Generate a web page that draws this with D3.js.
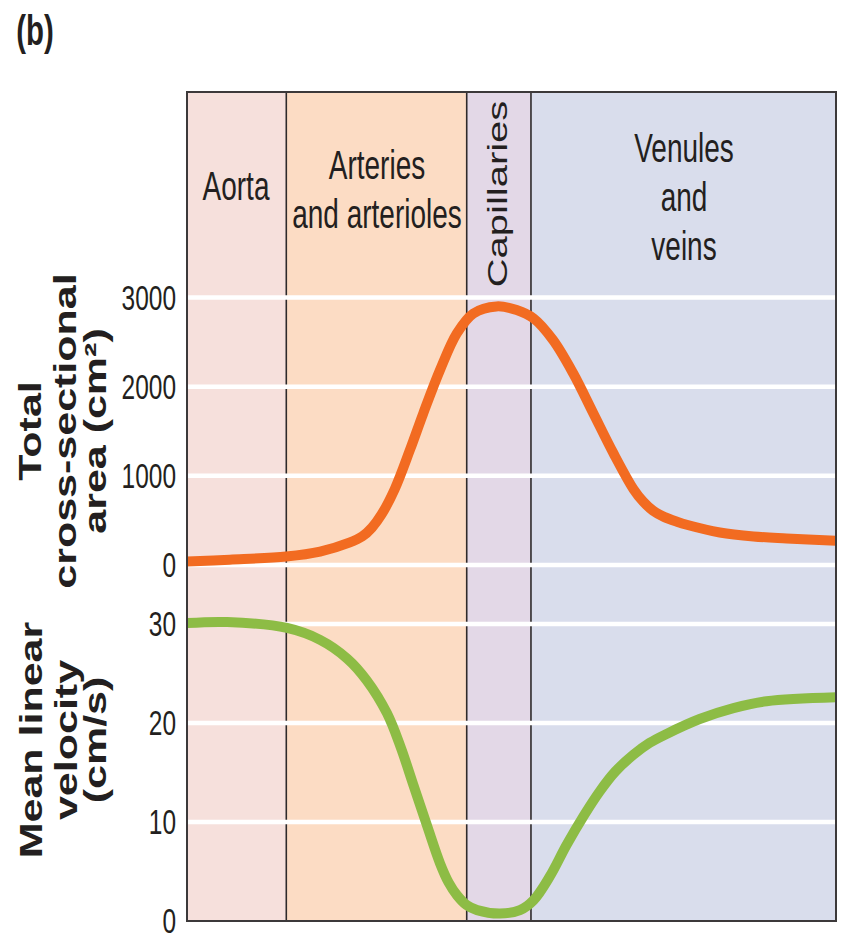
<!DOCTYPE html>
<html>
<head>
<meta charset="utf-8">
<script src="https://cdn.jsdelivr.net/npm/d3@7"></script>
<style>
  html, body { margin: 0; padding: 0; background: #ffffff; }
  svg { display: block; }
  text { font-family: "Liberation Sans", Arial, Helvetica, sans-serif; fill: #231f20; }
</style>
</head>
<body>
<svg id="chart" width="842" height="936"></svg>
<script>
// Vessel segments along the circulation (position 0–100)
const regionNames  = ["Aorta", "Arteries and arterioles", "Capillaries", "Venules and veins"];
const regionStarts = [0, 15.3, 43.1, 53.0];
const regionEnds   = [15.3, 43.1, 53.0, 100];
const regionColors = ["#f6e0dc", "#fcdcc4", "#e3d8e7", "#d9ddec"];

// Total cross-sectional area (cm²) along the path
const areaPos = [0, 6.6, 15.3, 20.5, 25.0, 27.0, 28.5, 30.0, 32.0, 34.4, 36.4, 39.0, 41.6, 44.1, 47.7,
                 50.8, 53.4, 56.4, 59.5, 62.6, 65.7, 68.8, 70.3, 71.8, 73.5, 75.5, 77.0, 82.1, 87.3, 92.4, 100];
const areaVal = [40, 60, 95, 150, 250, 320, 420, 570, 850, 1300, 1700, 2190, 2600, 2820, 2900,
                 2860, 2766, 2523, 2150, 1702, 1254, 850, 710, 610, 540, 485, 451, 365, 320, 298, 272];

// Mean linear velocity (cm/s) along the path
const velPos = [0, 6.2, 15.4, 20.5, 24.7, 27.7, 30.8, 32.9, 34.9, 37.0, 39.0, 40.3, 41.6, 43.1, 44.7, 48.2,
                51.3, 53.4, 55.9, 58.5, 61.1, 63.6, 66.0, 68.8, 71.3, 73.9, 79.0, 84.2, 89.3, 100];
const velVal = [30.1, 30.2, 29.6, 28.4, 26.5, 24.3, 21.0, 17.6, 13.7, 9.6, 5.8, 3.9, 2.6, 1.6, 1.1, 0.75,
                1.1, 2.1, 4.5, 7.7, 10.6, 13.1, 15.1, 16.8, 18.0, 18.9, 20.4, 21.5, 22.2, 22.6];

const areaTicks = [0, 1000, 2000, 3000];
const velTicks  = [0, 10, 20, 30];

const svg = d3.select("#chart");
const plotLeft = 187, plotRight = 836, plotTop = 92, plotBottom = 921;

const x = d3.scaleLinear().domain([0, 100]).range([plotLeft, plotRight]);
const yArea = d3.scaleLinear().domain([0, 3000]).range([565, 297.5]);
const yVel  = d3.scaleLinear().domain([0, 30]).range([plotBottom, 624]);

// Glyphs are drawn condensed, as in the original artwork
const SX = 0.7;

// Background bands
svg.append("g").selectAll("rect")
  .data(regionNames)
  .join("rect")
  .attr("x", (d, i) => x(regionStarts[i]))
  .attr("y", plotTop)
  .attr("width", (d, i) => x(regionEnds[i]) - x(regionStarts[i]))
  .attr("height", plotBottom - plotTop)
  .attr("fill", (d, i) => regionColors[i]);

// Separators between segments
svg.append("g").selectAll("line")
  .data(regionStarts.slice(1))
  .join("line")
  .attr("x1", d => x(d)).attr("x2", d => x(d))
  .attr("y1", plotTop).attr("y2", plotBottom)
  .attr("stroke", "#2e2a2b").attr("stroke-width", 1.6);

// White grid lines
const grid = svg.append("g").attr("stroke", "#ffffff").attr("stroke-width", 4.5);
grid.selectAll("line.a").data(areaTicks).join("line").attr("class", "a")
  .attr("x1", plotLeft).attr("x2", plotRight)
  .attr("y1", d => yArea(d)).attr("y2", d => yArea(d));
grid.selectAll("line.v").data(velTicks.filter(d => d > 0)).join("line").attr("class", "v")
  .attr("x1", plotLeft).attr("x2", plotRight)
  .attr("y1", d => yVel(d)).attr("y2", d => yVel(d));

// Curves, clipped to the plot frame
svg.append("clipPath").attr("id", "plotClip")
  .append("rect").attr("x", plotLeft).attr("y", plotTop)
  .attr("width", plotRight - plotLeft).attr("height", plotBottom - plotTop);

const curves = svg.append("g").attr("clip-path", "url(#plotClip)");

const areaLine = d3.line()
  .x((d, i) => x(areaPos[i]))
  .y(d => yArea(d))
  .curve(d3.curveCatmullRom.alpha(0.5));
const velLine = d3.line()
  .x((d, i) => x(velPos[i]))
  .y(d => yVel(d))
  .curve(d3.curveCatmullRom.alpha(0.5));

curves.append("path")
  .attr("d", areaLine(areaVal))
  .attr("fill", "none").attr("stroke", "#f26b21").attr("stroke-width", 10)
  .attr("stroke-linejoin", "round");
curves.append("path")
  .attr("d", velLine(velVal))
  .attr("fill", "none").attr("stroke", "#8dbc45").attr("stroke-width", 10)
  .attr("stroke-linejoin", "round");

// Frame
svg.append("rect")
  .attr("x", plotLeft).attr("y", plotTop)
  .attr("width", plotRight - plotLeft).attr("height", plotBottom - plotTop)
  .attr("fill", "none").attr("stroke", "#3c393a").attr("stroke-width", 2);

// Axes (labels only)
function styleAxis(g) {
  g.select(".domain").remove();
  g.selectAll(".tick line").remove();
  g.selectAll(".tick text")
    .attr("x", 0).attr("dy", "0.34em")
    .attr("transform", `scale(${SX},1)`)
    .attr("font-family", "Liberation Sans, Arial, sans-serif")
    .attr("font-size", 35)
    .attr("fill", "#231f20");
}
svg.append("g").attr("transform", "translate(176,0)")
  .call(d3.axisLeft(yArea).tickValues(areaTicks).tickSize(0).tickPadding(0).tickFormat(d3.format("d")))
  .call(styleAxis);
svg.append("g").attr("transform", "translate(176,0)")
  .call(d3.axisLeft(yVel).tickValues(velTicks).tickSize(0).tickPadding(0).tickFormat(d3.format("d")))
  .call(styleAxis);

// Horizontal text helper (condensed)
function hText(str, cx, baseline, size, weight) {
  svg.append("text")
    .attr("transform", `translate(${cx},${baseline}) scale(${SX},1)`)
    .attr("text-anchor", "middle")
    .attr("font-size", size)
    .attr("font-weight", weight || "normal")
    .text(str);
}
// Vertical text helper (reads bottom to top, condensed across the glyph height)
function vText(str, bx, cy, size, weight, sy) {
  svg.append("text")
    .attr("transform", `translate(${bx},${cy}) rotate(-90) scale(1,${sy || SX})`)
    .attr("text-anchor", "middle")
    .attr("font-size", size)
    .attr("font-weight", weight || "normal")
    .text(str);
}

// Panel tag
hText("(b)", 35, 45, 42, "bold");

// Segment labels
hText("Aorta", 236, 200, 40);
hText("Arteries", 377, 179, 40);
hText("and arterioles", 377, 228, 40);
vText("Capillaries", 507, 194, 40, "normal", SX);
hText("Venules", 684, 162, 40);
hText("and", 684, 211, 40);
hText("veins", 684, 260, 40);

// Axis titles
vText("Total", 41, 431, 43, "bold", 0.72);
vText("cross-sectional", 76, 431, 43, "bold", 0.72);
vText("area (cm²)", 106, 431, 43, "bold", 0.72);

vText("Mean linear", 42, 740, 43, "bold", 0.72);
vText("velocity", 77, 740, 43, "bold", 0.72);
vText("(cm/s)", 106, 740, 43, "bold", 0.72);
</script>
</body>
</html>
